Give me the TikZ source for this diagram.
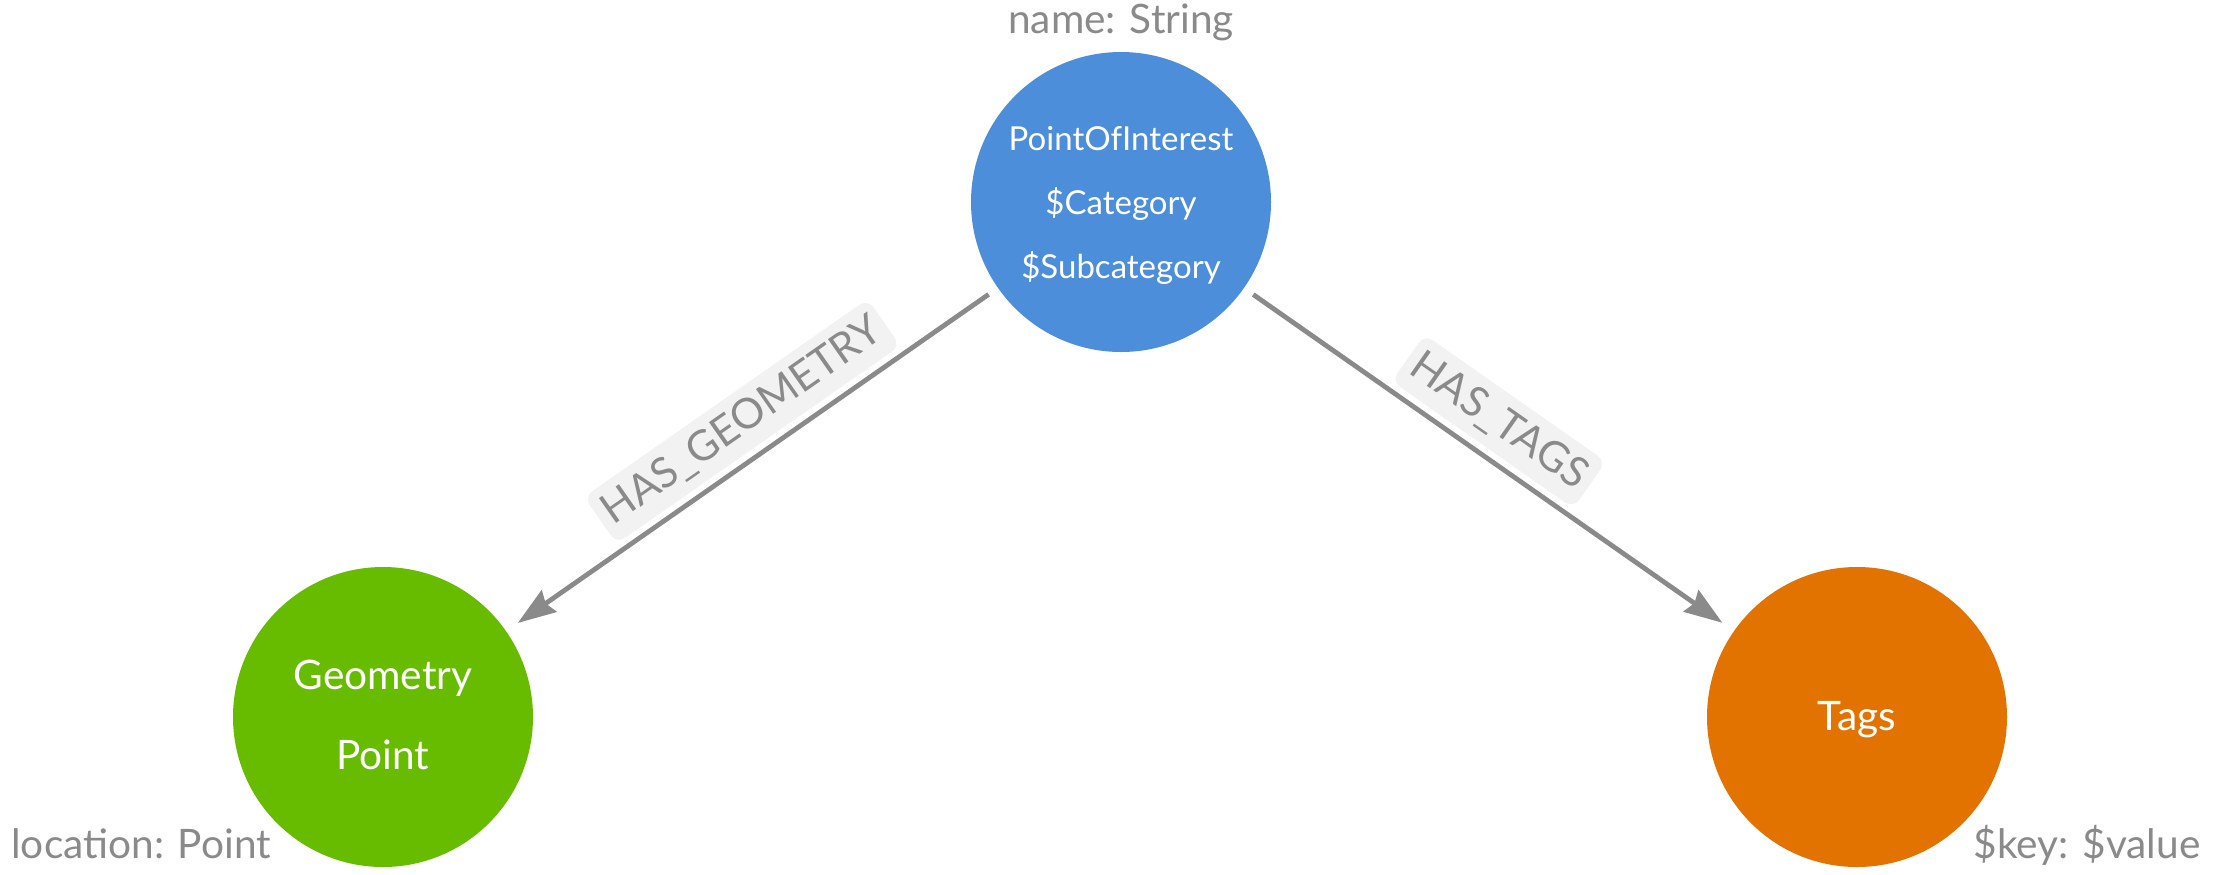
\documentclass[tikz,border=0pt]{standalone}
\usepackage{fontspec}
\setmainfont{Lato}
\usetikzlibrary{arrows.meta}
\definecolor{poiblue}{HTML}{4C8EDA}
\definecolor{geogreen}{HTML}{68BC00}
\definecolor{tagorange}{HTML}{E27300}
\definecolor{edgegray}{HTML}{8A8A8A}
\definecolor{lblbg}{HTML}{F2F2F2}
\begin{document}
\begin{tikzpicture}[x=0.5pt,y=-0.5pt,
  entity/.style={circle, minimum size=150pt, inner sep=0pt},
  intext/.style={text=white, inner sep=0pt, anchor=base},
  poifont/.style={font=\fontsize{16.5}{19}\selectfont},
  bigfont/.style={font=\fontsize{20.3}{24}\selectfont},
  caption/.style={text=edgegray, font=\fontsize{20.3}{24}\selectfont, inner sep=0pt},
  rel/.style={draw=edgegray, line width=2.4pt, -{Stealth[length=19pt,width=13pt,inset=2pt]}, shorten <=5.5pt, shorten >=7pt},
  rellabel/.style={fill=lblbg, rounded corners=5pt, text=edgegray, font=\fontsize{21}{24}\selectfont, sloped, inner xsep=4pt, inner ysep=0pt, minimum height=28.5pt}
]
\useasboundingbox (0,0) rectangle (2213,874);
\fill[white] (0,0) rectangle (2213,874);
% entities
\node[entity, fill=poiblue] (poi) at (1121,202) {};
\node[entity, fill=geogreen] (geo) at (383,717) {};
\node[entity, fill=tagorange] (tags) at (1857,717) {};
% texts inside
\node[intext, poifont] (poit1) at (1121,150) {PointOfInterest};
\node[intext, poifont] (poit2) at (1121,214) {\$Category};
\node[intext, poifont] (poit3) at (1121,278) {\$Subcategory};
\node[intext, bigfont] (geot1) at (383,689) {Geometry};
\node[intext, bigfont] (geot2) at (383,769) {Point};
\node[intext, bigfont] (tagst) at (1857,730) {Tags};
% property captions
\node[caption, anchor=base] (poiprop) at (1121,33) {name: String};
\node[caption, anchor=base west] (geoprop) at (11,858) {location: Point};
\node[caption, anchor=base east] (tagsprop) at (2201,858) {\$key: \$value};
% relationships
\draw[rel] (poi) -- (geo);
\draw[rel] (poi) -- (tags);
\path (geo) -- (poi) node[rellabel, pos=0.523, above=4pt] (lblgeo) {HAS\_GEOMETRY};
\path (poi) -- (tags) node[rellabel, pos=0.477, above=4pt] (lbltags) {HAS\_TAGS};
\end{tikzpicture}
\end{document}
